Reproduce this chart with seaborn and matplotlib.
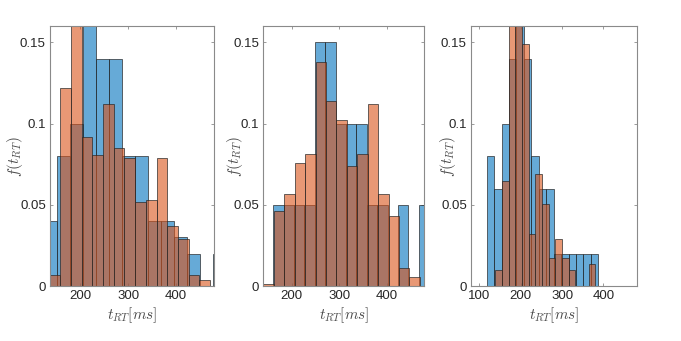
import numpy as np
import pandas as pd
import matplotlib
matplotlib.use("Agg")
import matplotlib.pyplot as plt
import seaborn as sns

# histogram bin layout per panel (ms): first edge and bin width
blue_start = [123.7, 161.3, 117.9]
blue_width = [27.3, 21.9, 18.0]
orange_start = [135.6, 140.2, 138.5]
orange_width = [22.4, 22.0, 16.15]

# bar heights (probability)
blue_p1 = [0.04, 0.08, 0.10, 0.17, 0.14, 0.14, 0.08, 0.08, 0.04, 0.04, 0.03, 0.02, 0.0, 0.02]
orange_p1 = [0.007, 0.122, 0.161, 0.092, 0.081, 0.112, 0.085, 0.079, 0.052, 0.053,
             0.079, 0.037, 0.029, 0.007, 0.0037]

blue_p2 = [0.05, 0.05, 0.05, 0.05, 0.15, 0.15, 0.10, 0.10, 0.10, 0.05, 0.05, 0.0, 0.05, 0.0, 0.05]
orange_p2 = [0.0014, 0.046, 0.057, 0.076, 0.0815, 0.138, 0.114, 0.102, 0.074, 0.0815,
             0.112, 0.057, 0.0435, 0.0113, 0.0058]

blue_p3 = [0.08, 0.06, 0.10, 0.14, 0.16, 0.14, 0.08, 0.06, 0.06, 0.02, 0.02, 0.02, 0.02, 0.02, 0.02]
orange_p3 = [0.0103, 0.0647, 0.26, 0.276, 0.149, 0.0323, 0.0688, 0.0507, 0.0175, 0.0288,
             0.0175, 0.0103, 0.0, 0.0, 0.0138]

blue_all = [blue_p1, blue_p2, blue_p3]
orange_all = [orange_p1, orange_p2, orange_p3]

xlims = [(136.3, 480.0), (140.2, 479.4), (80.0, 480.5)]
xticks = [[200, 300, 400], [200, 300, 400], [100, 200, 300, 400]]
yticks = [0, 0.05, 0.1, 0.15]
ytick_labels = ["0", "0.05", "0.1", "0.15"]

BLUE = (0.0, 0.447, 0.741)
ORANGE = (0.85, 0.325, 0.098)

sns.set_style("ticks")
plt.rcParams["font.family"] = ["Liberation Sans", "DejaVu Sans"]
plt.rcParams["mathtext.fontset"] = "cm"


def draw_hist(ax, start, width, heights, color):
    edges = [start + width * k for k in range(len(heights) + 1)]
    df = pd.DataFrame({"t": [e + width / 2 for e in edges[:-1]], "p": heights})
    sns.histplot(data=df, x="t", weights="p", bins=edges, ax=ax, color=color,
                 alpha=0.6, edgecolor=(0.15, 0.15, 0.15, 0.8), linewidth=0.6)


fig = plt.figure(figsize=(6.81, 3.41), dpi=100)
W, H = 681, 341
# axes boxes in pixels: left, right
boxes = [(50, 214), (263.3, 424.3), (471, 636.7)]
top, bottom = 26, 286.3
ylab_x = [15, 235, 448]

for i in range(3):
    l, r = boxes[i]
    ax = fig.add_axes([l / W, (H - bottom) / H, (r - l) / W, (bottom - top) / H])
    draw_hist(ax, blue_start[i], blue_width[i], blue_all[i], BLUE)
    draw_hist(ax, orange_start[i], orange_width[i], orange_all[i], ORANGE)

    ax.set_xlim(*xlims[i])
    ax.set_ylim(0, 0.16)
    ax.set_xticks(xticks[i])
    ax.set_yticks(yticks)
    ax.set_yticklabels(ytick_labels)
    ax.tick_params(direction="in", top=True, right=True, length=2.5, width=0.6,
                   colors="#8a8a8a", labelcolor="#262626", labelsize=9.5, pad=3)
    for sp in ax.spines.values():
        sp.set_visible(True)
        sp.set_color("#8a8a8a")
        sp.set_linewidth(0.8)

    ax.set_ylabel(r"$f(t_{RT})$", fontsize=11, color="#4a4a4a", va="center")
    ax.yaxis.set_label_coords((ylab_x[i] - l) / (r - l), 0.5)
    ax.set_xlabel(r"$t_{RT}[ms]$", fontsize=11, color="#4a4a4a", va="center")
    ax.xaxis.set_label_coords(0.5, -(315 - bottom) / (bottom - top))

fig.savefig("out.png", dpi=100)
